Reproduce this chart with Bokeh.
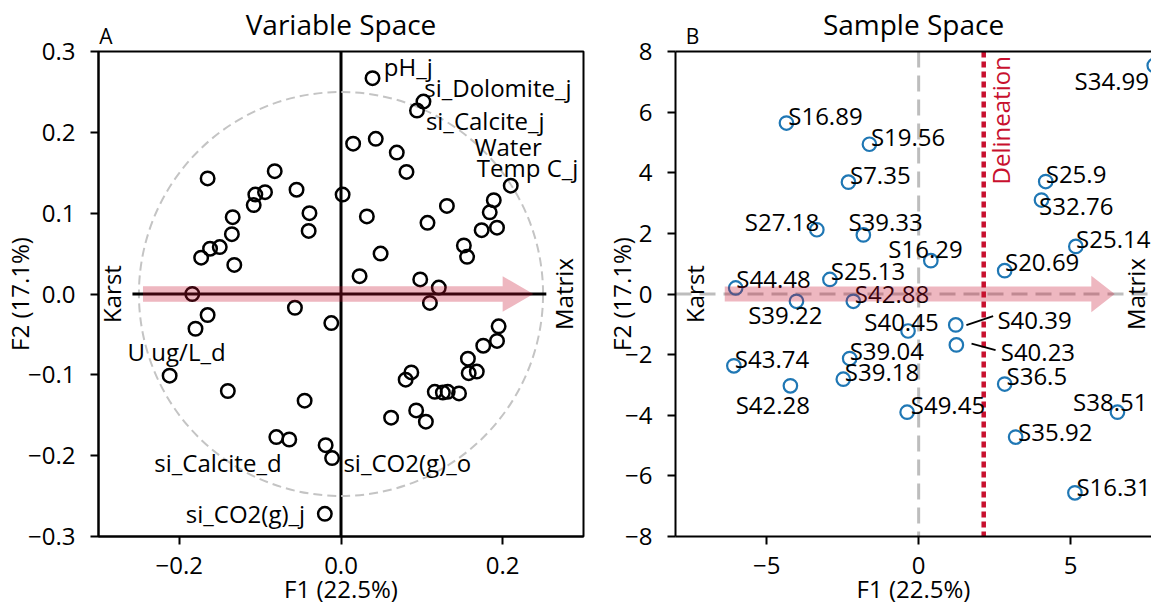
import math
from bokeh.plotting import figure
from bokeh.layouts import row
from bokeh.models import (ColumnDataSource, Span, FixedTicker, LinearAxis,
                          CustomJSTickFormatter, Range1d)
from bokeh.core.properties import value
from bokeh.embed import file_html
from bokeh.resources import INLINE

FONT = "Open Sans"

# ---- Panel A: variable loadings on F1 / F2 ----
var_f1 = [0.039, 0.102, 0.094, 0.015, 0.043, 0.069, 0.081, 0.210, 0.189, 0.184, 0.193,
          0.174, 0.131, 0.107, 0.152, 0.156, 0.049, 0.032, 0.002, 0.023, 0.098, 0.121,
          -0.165, -0.082, -0.094, -0.106, -0.108, -0.055, -0.039, -0.040, -0.134, -0.135,
          -0.132, -0.150, -0.162, -0.173, -0.184,
          0.110, -0.057, -0.165, -0.180, -0.012, -0.212, -0.140, -0.045, -0.080, -0.064,
          -0.019, -0.011, -0.020,
          0.195, 0.193, 0.176, 0.157, 0.158, 0.168, 0.087, 0.080, 0.116, 0.126, 0.132,
          0.146, 0.093, 0.105, 0.062]
var_f2 = [0.267, 0.238, 0.227, 0.186, 0.192, 0.175, 0.151, 0.134, 0.116, 0.101, 0.082,
          0.079, 0.109, 0.088, 0.060, 0.046, 0.050, 0.096, 0.123, 0.022, 0.018, 0.008,
          0.143, 0.152, 0.126, 0.123, 0.110, 0.129, 0.100, 0.078, 0.095, 0.074,
          0.036, 0.058, 0.056, 0.045, 0.000,
          -0.011, -0.017, -0.026, -0.043, -0.036, -0.101, -0.120, -0.132, -0.177, -0.180,
          -0.187, -0.203, -0.272,
          -0.040, -0.058, -0.064, -0.080, -0.098, -0.096, -0.097, -0.106, -0.121, -0.122,
          -0.121, -0.123, -0.144, -0.158, -0.153]

var_labels = ["pH_j", "si_Dolomite_j", "si_Calcite_j", "Water", "Temp C_j",
              "U ug/L_d", "si_Calcite_d", "si_CO2(g)_o", "si_CO2(g)_j"]
var_label_x = [0.053, 0.103, 0.105, 0.165, 0.168, -0.264, -0.231, 0.003, -0.192]
var_label_y = [0.282, 0.256, 0.215, 0.183, 0.157, -0.071, -0.208, -0.208, -0.272]

# ---- Panel B: sample scores on F1 / F2 ----
samples = ["S34.99", "S16.89", "S19.56", "S7.35", "S25.9", "S32.76", "S27.18", "S39.33",
           "S16.29", "S25.14", "S20.69", "S44.48", "S25.13", "S42.88", "S39.22", "S40.45",
           "S40.39", "S40.23", "S43.74", "S39.04", "S39.18", "S36.5", "S38.51", "S42.28",
           "S49.45", "S35.92", "S16.31"]
sample_f1 = [7.75, -4.35, -1.62, -2.31, 4.18, 4.04, -3.35, -1.82, 0.40, 5.17, 2.83, -6.02,
             -2.92, -2.15, -4.02, -0.35, 1.22, 1.24, -6.08, -2.27, -2.48, 2.83, 6.54, -4.22,
             -0.38, 3.19, 5.14]
sample_f2 = [7.54, 5.64, 4.94, 3.69, 3.71, 3.10, 2.12, 1.95, 1.10, 1.57, 0.77, 0.20, 0.48,
             -0.24, -0.24, -1.22, -1.02, -1.68, -2.37, -2.13, -2.81, -2.97, -3.90, -3.03,
             -3.90, -4.72, -6.56]
sample_label_x = [5.13, -4.29, -1.57, -2.26, 4.18, 3.96, -5.72, -2.31, -1.00, 5.18, 2.84,
                  -6.00, -2.89, -2.10, -5.61, -1.79, 2.59, 2.70, -6.05, -2.27, -2.43, 2.89,
                  5.08, -6.02, -0.26, 3.27, 5.19]
sample_label_y = [7.05, 5.90, 5.21, 3.93, 3.96, 2.91, 2.38, 2.38, 1.50, 1.82, 1.07, 0.51,
                  0.77, 0.02, -0.67, -0.90, -0.84, -1.89, -2.12, -1.86, -2.55, -2.68, -3.53,
                  -3.66, -3.66, -4.52, -6.36]
# leader lines for the two crowded labels (from marker toward text)
leader_x0 = [1.57, 1.74]
leader_y0 = [-1.03, -1.64]
leader_x1 = [2.45, 2.53]
leader_y1 = [-0.73, -1.85]

DELINEATION_F1 = 2.14
F1_LABEL = "F1 (22.5%)"
F2_LABEL = "F2 (17.1%)"

CRIMSON = "#c8102e"
GREY = "#c4c4c4"


def arrow_outline(x0, x1, shaft_half, head_half, head_len):
    xb = x1 - head_len
    xs = [x0, xb, xb, x1, xb, xb, x0]
    ys = [-shaft_half, -shaft_half, -head_half, 0, head_half, shaft_half, shaft_half]
    return xs, ys


def style_axes(p, fmt, ylabel_standoff):
    for ax in (p.xaxis[0], p.yaxis[0]):
        ax.major_label_text_font = FONT
        ax.major_label_text_font_size = "24px"
        ax.major_label_text_color = "black"
        ax.axis_line_width = 2
        ax.axis_line_color = "black"
        ax.major_tick_line_width = 2
        ax.major_tick_line_color = "black"
        ax.major_tick_out = 8
        ax.major_tick_in = 0
        ax.minor_tick_line_color = None
        ax.formatter = CustomJSTickFormatter(code=fmt)
        ax.axis_label_text_font = FONT
        ax.axis_label_text_font_size = "24px"
        ax.axis_label_text_font_style = "normal"
        ax.axis_label_text_color = "black"
        ax.axis_label_text_line_height = 0.8
    p.xaxis[0].major_label_standoff = 12
    p.yaxis[0].major_label_standoff = 15
    p.xaxis[0].axis_label = F1_LABEL
    p.yaxis[0].axis_label = F2_LABEL
    p.xaxis[0].axis_label_standoff = -5
    p.yaxis[0].axis_label_standoff = ylabel_standoff
    p.grid.visible = False


def add_heading(p, letter_x, letter, title, line_color):
    top = LinearAxis(ticker=FixedTicker(ticks=[letter_x]),
                     formatter=CustomJSTickFormatter(code="return '%s';" % letter))
    top.axis_line_color = line_color
    top.axis_line_width = 2
    top.major_tick_line_color = None
    top.minor_tick_line_color = None
    top.major_label_standoff = -4
    top.major_label_text_font = FONT
    top.major_label_text_font_size = "21px"
    top.major_label_text_color = "black"
    top.axis_label = title
    top.axis_label_text_font = FONT
    top.axis_label_text_font_size = "28px"
    top.axis_label_text_font_style = "normal"
    top.axis_label_text_color = "black"
    top.axis_label_standoff = -24
    p.add_layout(top, "above")


# ================= Panel A =================
pa = figure(width=596, height=607, x_range=Range1d(-0.3, 0.3), y_range=Range1d(-0.3, 0.3),
            output_backend="svg", toolbar_location=None,
            min_border_left=98, min_border_right=13, min_border_top=51, min_border_bottom=69)
pa.outline_line_color = "black"
pa.outline_line_width = 2
pa.xaxis.ticker = FixedTicker(ticks=[-0.2, 0.0, 0.2])
pa.yaxis.ticker = FixedTicker(ticks=[-0.3, -0.2, -0.1, 0.0, 0.1, 0.2, 0.3])
style_axes(pa, "return tick.toFixed(1).replace('-', '\u2212');", -11)
add_heading(pa, -0.291, "A", "Variable Space", None)

pa.ellipse(x=[0], y=[0], width=[0.5], height=[0.5], fill_color=None,
           line_color=GREY, line_width=2, line_dash="9 5")
pa.add_layout(Span(location=0, dimension="height", line_color="black",
                   line_width=3, level="underlay"))
pa.segment(x0=[-0.258], y0=[0], x1=[0.254], y1=[0], line_color="black", line_width=3)

src_a = ColumnDataSource(dict(x=var_f1, y=var_f2))
pa.scatter("x", "y", source=src_a, marker="circle", size=13.5, fill_color=None,
           line_color="black", line_width=2.5)

lab_a = ColumnDataSource(dict(x=var_label_x, y=var_label_y, t=var_labels))
pa.text("x", "y", text="t", source=lab_a, text_font=value(FONT),
        text_font_size=value("24px"), text_align="left", text_baseline="middle",
        text_color="black")

ax_, ay_ = arrow_outline(-0.245, 0.238, 0.0096, 0.022, 0.038)
pa.patch(ax_, ay_, fill_color=CRIMSON, fill_alpha=0.3, line_color=None)

pa.text(x=[-0.284, 0.275], y=[0.0, 0.0], text=["Karst", "Matrix"], angle=math.pi / 2,
        text_font=value(FONT), text_font_size=value("24px"), text_align="center",
        text_baseline="middle", text_color="black")

# ================= Panel B =================
pb = figure(width=555, height=607, x_range=Range1d(-8, 7.66), y_range=Range1d(-8, 8),
            output_backend="svg", toolbar_location=None,
            min_border_left=79, min_border_right=0, min_border_top=51, min_border_bottom=69)
pb.outline_line_color = None
pb.xaxis.ticker = FixedTicker(ticks=[-5, 0, 5])
pb.yaxis.ticker = FixedTicker(ticks=[-8, -6, -4, -2, 0, 2, 4, 6, 8])
style_axes(pb, "return tick.toFixed(0).replace('-', '\u2212');", -16)
add_heading(pb, -7.44, "B", "Sample Space", "black")

pb.add_layout(Span(location=0, dimension="height", line_color="#bdbdbd",
                   line_width=3, line_dash="16 8", level="underlay"))
pb.add_layout(Span(location=0, dimension="width", line_color="#bdbdbd",
                   line_width=3, line_dash="16 8", level="underlay"))
pb.add_layout(Span(location=DELINEATION_F1, dimension="height", line_color=CRIMSON,
                   line_width=4.5, line_dash="6 4", level="underlay"))

src_b = ColumnDataSource(dict(x=sample_f1, y=sample_f2))
pb.scatter("x", "y", source=src_b, marker="circle", size=13.5, fill_color=None,
           line_color="#1f77b4", line_width=2.2)

lab_b = ColumnDataSource(dict(x=sample_label_x, y=sample_label_y, t=samples))
pb.text("x", "y", text="t", source=lab_b, text_font=value(FONT),
        text_font_size=value("24px"), text_align="left", text_baseline="middle",
        text_color="black")
pb.segment(x0=leader_x0, y0=leader_y0, x1=leader_x1, y1=leader_y1,
           line_color="black", line_width=1.8)

bx_, by_ = arrow_outline(-6.38, 6.45, 0.25, 0.6, 0.77)
pb.patch(bx_, by_, fill_color=CRIMSON, fill_alpha=0.3, line_color=None)

pb.text(x=[-7.38, 7.12], y=[0.0, 0.0], text=["Karst", "Matrix"], angle=math.pi / 2,
        text_font=value(FONT), text_font_size=value("24px"), text_align="center",
        text_baseline="middle", text_color="black")
pb.text(x=[2.69], y=[5.73], text=["Delineation"], angle=math.pi / 2,
        text_font=value(FONT), text_font_size=value("24px"), text_align="center",
        text_baseline="middle", text_color=CRIMSON)

layout = row(pa, pb, spacing=0)
open("out.html", "w").write(file_html(layout, INLINE))
